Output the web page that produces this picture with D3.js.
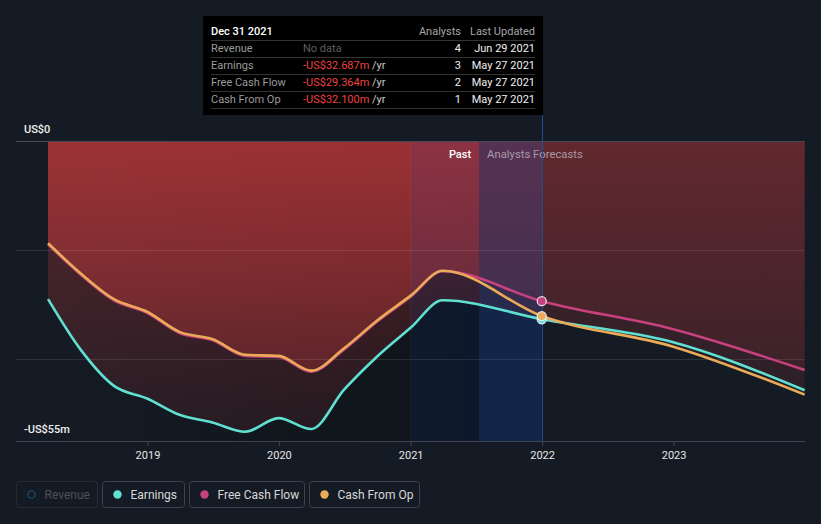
<!DOCTYPE html>
<html>
<head>
<meta charset="utf-8">
<script src="https://cdn.jsdelivr.net/npm/d3@7"></script>
<style>
  html, body { margin: 0; padding: 0; background: #151b24; }
  svg { display: block; font-family: Roboto, "Open Sans", sans-serif; }
</style>
</head>
<body>
<svg id="chart" width="821" height="524"></svg>
<script>
// ---------- DATA ----------
const pastDates = ["2018-03-31","2018-06-30","2018-09-30","2018-12-31","2019-03-31","2019-06-30","2019-09-30","2019-12-31","2020-03-31","2020-06-30","2020-09-30","2020-12-31","2021-03-31"];
const forecastDates = ["2021-12-31","2022-12-31","2023-12-31"];

const earningsPast = [-29.0,-38.3,-44.9,-47.2,-50.2,-51.6,-53.3,-50.8,-52.8,-45.6,-39.5,-34.3,-29.2];
const earningsForecast = [-32.687,-36.9,-45.7];
const fcfPast = [-18.95,-24.5,-29.2,-31.5,-35.2,-36.5,-39.4,-39.6,-42.3,-38.2,-33.1,-28.6,-23.85];
const fcfForecast = [-29.364,-34.5,-42.0];
const cfoPast = [-18.75,-24.3,-29.0,-31.3,-35.0,-36.3,-39.2,-39.4,-42.1,-38.0,-32.9,-28.4,-23.8];
const cfoForecast = [-32.1,-37.7,-46.5];

const yearTicks = ["2019","2020","2021","2022","2023"];
const yTickLabels = ["US$0", "-US$55m"];
const yDomain = [-55, 0];
const xDomain = ["2018-01-01", "2024-01-01"];
const todayDate = "2021-07-10";
const bandStartDate = "2021-01-01";
const tooltipDate = "2021-12-31";

const seriesNames = ["Earnings", "Free Cash Flow", "Cash From Op"];
const seriesColors = ["#5fe0d0", "#c7417f", "#eaaa57"];

const tooltipTitle = "Dec 31 2021";
const tooltipRows = ["Revenue", "Earnings", "Free Cash Flow", "Cash From Op"];
const tooltipValues = ["No data", "-US$32.687m", "-US$29.364m", "-US$32.100m"];
const tooltipAnalysts = ["4", "3", "2", "1"];
const tooltipUpdated = ["Jun 29 2021", "May 27 2021", "May 27 2021", "May 27 2021"];

const legendNames = ["Revenue", "Earnings", "Free Cash Flow", "Cash From Op"];

// ---------- SETUP ----------
const parse = d3.timeParse("%Y-%m-%d");
const svg = d3.select("#chart");
const W = 821, H = 524;
const pLeft = 16, pRight = 805, pTop = 141, pBottom = 441;

const x = d3.scaleTime().domain(xDomain.map(parse)).range([pLeft, pRight]);
const y = d3.scaleLinear().domain(yDomain).range([pBottom, pTop]);

function build(pv, fv) {
  return pastDates.map((d, i) => ({ date: parse(d), v: pv[i] }))
    .concat(forecastDates.map((d, i) => ({ date: parse(d), v: fv[i] })));
}
const series = [
  build(earningsPast, earningsForecast),
  build(fcfPast, fcfForecast),
  build(cfoPast, cfoForecast)
];

const xToday = x(parse(todayDate));
const xBand = x(parse(bandStartDate));
const xTip = x(parse(tooltipDate));
const xStart = x(parse(pastDates[0]));

// ---------- DEFS ----------
const defs = svg.append("defs");
function vGrad(id, o0, o1) {
  const g = defs.append("linearGradient").attr("id", id)
    .attr("gradientUnits", "userSpaceOnUse")
    .attr("x1", 0).attr("x2", 0).attr("y1", pTop).attr("y2", pBottom);
  g.append("stop").attr("offset", 0).attr("stop-color", "rgb(200,58,60)").attr("stop-opacity", o0);
  g.append("stop").attr("offset", 1).attr("stop-color", "rgb(200,58,60)").attr("stop-opacity", o1);
}
vGrad("gPast", 0.37, 0.10);
vGrad("gFuture", 0.17, 0.05);

const dg = defs.append("linearGradient").attr("id", "gDark")
  .attr("x1", 0).attr("x2", 1).attr("y1", 0).attr("y2", 0);
dg.append("stop").attr("offset", 0).attr("stop-color", "#000").attr("stop-opacity", 0);
dg.append("stop").attr("offset", 1).attr("stop-color", "#000").attr("stop-opacity", 0.3);

defs.append("clipPath").attr("id", "cPast").append("rect")
  .attr("x", 0).attr("y", 0).attr("width", xTip).attr("height", H);
defs.append("clipPath").attr("id", "cFuture").append("rect")
  .attr("x", xTip).attr("y", 0).attr("width", W - xTip).attr("height", H);

// ---------- BACKGROUND SHADING ----------
svg.append("rect").attr("x", xStart).attr("y", pTop)
  .attr("width", xToday - xStart).attr("height", pBottom - pTop)
  .attr("fill", "url(#gDark)");

// ---------- AREAS ----------
const area = d3.area().x(d => x(d.date)).y0(y(0)).y1(d => y(d.v)).curve(d3.curveMonotoneX);
const areaG = svg.append("g");
series.forEach(s => {
  areaG.append("path").attr("d", area(s)).attr("fill", "url(#gPast)").attr("clip-path", "url(#cPast)");
  areaG.append("path").attr("d", area(s)).attr("fill", "url(#gFuture)").attr("clip-path", "url(#cFuture)");
});

// ---------- BAND OVERLAYS ----------
svg.append("rect").attr("x", xBand).attr("y", pTop)
  .attr("width", xToday - xBand).attr("height", pBottom - pTop)
  .attr("fill", "rgb(10,80,220)").attr("fill-opacity", 0.09);
svg.append("rect").attr("x", xToday).attr("y", pTop)
  .attr("width", xTip - xToday).attr("height", pBottom - pTop)
  .attr("fill", "rgb(17,50,109)").attr("fill-opacity", 0.5);
svg.append("line").attr("x1", xBand).attr("x2", xBand).attr("y1", pTop).attr("y2", pBottom)
  .attr("stroke", "rgba(255,255,255,0.05)");

// ---------- GRID ----------
const gridVals = [-20, -40];
svg.append("g").selectAll("line").data(gridVals).join("line")
  .attr("x1", pLeft).attr("x2", pRight)
  .attr("y1", d => Math.round(y(d)) + 0.5).attr("y2", d => Math.round(y(d)) + 0.5)
  .attr("stroke", "rgba(255,255,255,0.1)");
svg.append("line").attr("x1", pLeft).attr("x2", pRight)
  .attr("y1", pTop + 0.5).attr("y2", pTop + 0.5).attr("stroke", "#454b55");

// ---------- X AXIS ----------
const xAxis = d3.axisBottom(x)
  .tickValues(yearTicks.map(t => parse(t + "-01-01")))
  .tickFormat(d3.timeFormat("%Y"))
  .tickSize(5).tickSizeOuter(0);
const xg = svg.append("g").attr("transform", `translate(0,${pBottom})`).call(xAxis);
xg.select(".domain").attr("stroke", "#3f4550").attr("d", `M${pLeft},0.5H${pRight}`);
xg.selectAll(".tick line").attr("stroke", "#3f4550");
xg.selectAll(".tick text").attr("fill", "#e6e6e6").attr("font-size", 11)
  .attr("font-family", "Roboto, sans-serif").attr("dy", "0.95em");

// ---------- Y LABELS ----------
svg.append("text").attr("x", 24).attr("y", 133).text(yTickLabels[0])
  .attr("fill", "#f0f0f0").attr("font-size", 11).attr("font-weight", 500);
svg.append("text").attr("x", 24).attr("y", 433).text(yTickLabels[1])
  .attr("fill", "#f0f0f0").attr("font-size", 11).attr("font-weight", 500);

// ---------- PAST / FORECAST LABELS ----------
svg.append("text").attr("x", xToday - 8).attr("y", 158).attr("text-anchor", "end")
  .text("Past").attr("fill", "#ffffff").attr("font-size", 11).attr("font-weight", 500);
svg.append("text").attr("x", xToday + 8).attr("y", 158)
  .text("Analysts Forecasts").attr("fill", "#a59aa8").attr("font-size", 11.3);

// ---------- VERTICAL LINE ----------
svg.append("line").attr("x1", Math.round(xTip) + 0.5).attr("x2", Math.round(xTip) + 0.5)
  .attr("y1", 115).attr("y2", pBottom).attr("stroke", "#1f4d8e").attr("stroke-width", 1);

// ---------- LINES ----------
const line = d3.line().x(d => x(d.date)).y(d => y(d.v)).curve(d3.curveMonotoneX);
series.forEach((s, i) => {
  svg.append("path").attr("d", line(s)).attr("fill", "none")
    .attr("stroke", seriesColors[i]).attr("stroke-width", 2.6);
});

// ---------- MARKERS ----------
const markerOrder = [0, 2, 1];
markerOrder.forEach(i => {
  const p = series[i][pastDates.length];
  svg.append("circle").attr("cx", x(p.date)).attr("cy", y(p.v)).attr("r", 4.5)
    .attr("fill", seriesColors[i]).attr("stroke", "rgba(235,235,245,0.9)").attr("stroke-width", 1.3);
});

// ---------- TOOLTIP ----------
const tt = svg.append("g");
tt.append("rect").attr("x", 203).attr("y", 16).attr("width", 340).attr("height", 99).attr("fill", "#000");
tt.append("text").attr("x", 211).attr("y", 35).text(tooltipTitle)
  .attr("fill", "#fff").attr("font-size", 11).attr("font-weight", 500);
tt.append("text").attr("x", 461).attr("y", 35).attr("text-anchor", "end").text("Analysts")
  .attr("fill", "#a6a6a6").attr("font-size", 11);
tt.append("text").attr("x", 535).attr("y", 35).attr("text-anchor", "end").text("Last Updated")
  .attr("fill", "#a6a6a6").attr("font-size", 11);
const rowY0 = 40.5, rowH = 17;
for (let i = 0; i <= tooltipRows.length; i++) {
  tt.append("line").attr("x1", 211).attr("x2", 535)
    .attr("y1", rowY0 + i * rowH).attr("y2", rowY0 + i * rowH).attr("stroke", "#333");
}
tooltipRows.forEach((r, i) => {
  const by = 52 + i * rowH;
  tt.append("text").attr("x", 211).attr("y", by).text(r).attr("fill", "#9b9b9b").attr("font-size", 11);
  const t = tt.append("text").attr("x", 303).attr("y", by).attr("font-size", 11);
  if (tooltipValues[i] === "No data") {
    t.text("No data").attr("fill", "#5f5f5f");
  } else {
    t.append("tspan").text(tooltipValues[i]).attr("fill", "#ee4040");
    t.append("tspan").text(" /yr").attr("fill", "#c8c8c8");
  }
  tt.append("text").attr("x", 461).attr("y", by).attr("text-anchor", "end").text(tooltipAnalysts[i])
    .attr("fill", "#f0f0f0").attr("font-size", 11);
  tt.append("text").attr("x", 535).attr("y", by).attr("text-anchor", "end").text(tooltipUpdated[i])
    .attr("fill", "#f0f0f0").attr("font-size", 11);
});

// ---------- LEGEND ----------
const legendBoxes = [[16.5, 81], [102.5, 82], [189.5, 115], [309.5, 110]];
const lg = svg.append("g");
legendNames.forEach((n, i) => {
  const [bx, bw] = legendBoxes[i];
  const dim = i === 0;
  lg.append("rect").attr("x", bx).attr("y", 481.5).attr("width", bw).attr("height", 26).attr("rx", 3)
    .attr("fill", "none").attr("stroke", dim ? "#252b35" : "#3d434e");
  const c = lg.append("circle").attr("cx", bx + 15).attr("cy", 494.5).attr("r", dim ? 3.6 : 4.2);
  if (dim) c.attr("fill", "none").attr("stroke", "#1d4a6c").attr("stroke-width", 1.3);
  else c.attr("fill", seriesColors[i - 1]);
  lg.append("text").attr("x", bx + 28).attr("y", 498.5).text(n)
    .attr("fill", dim ? "#4a505b" : "#d8d8d8").attr("font-size", 12);
});
</script>
</body>
</html>
